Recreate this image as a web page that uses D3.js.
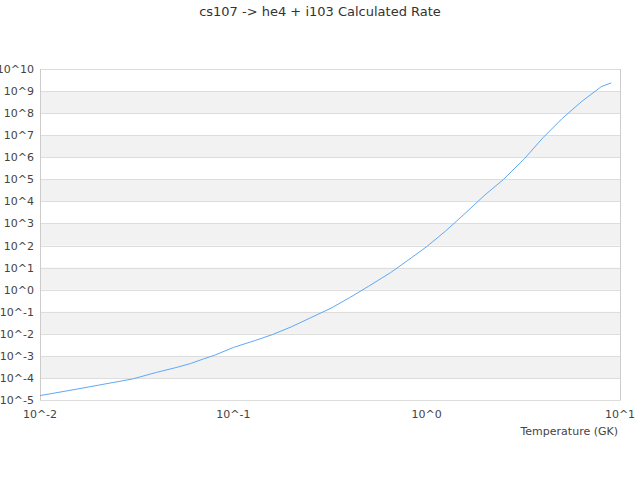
<!DOCTYPE html>
<html>
<head>
<meta charset="utf-8">
<script src="https://cdn.jsdelivr.net/npm/d3@7"></script>
<style>
  body { margin: 0; background: #fff; }
  svg { font-family: "DejaVu Sans", sans-serif; }
</style>
</head>
<body>
<svg width="640" height="480"></svg>
<script>
// temperatura (GK) y tasa calculada (log10)
const temperaturas = [0.01, 0.015, 0.02, 0.03, 0.04, 0.05, 0.06, 0.07, 0.08, 0.1,
  0.13, 0.16, 0.2, 0.25, 0.32, 0.4, 0.5, 0.65, 0.8, 1,
  1.25, 1.6, 2, 2.5, 3.2, 4, 5, 6.3, 8, 9];
const logTasa = [-4.80, -4.53, -4.33, -4.05, -3.75, -3.54, -3.35, -3.14, -2.97, -2.62,
  -2.30, -2.03, -1.68, -1.28, -0.84, -0.36, 0.15, 0.77, 1.33, 1.95,
  2.65, 3.5, 4.29, 5.0, 5.93, 6.89, 7.74, 8.51, 9.2, 9.37];
const exponentesY = d3.range(-5, 11);
const exponentesX = [-2, -1, 0, 1];
const titulo = "cs107 -> he4 + i103 Calculated Rate";
const tituloX = "Temperature (GK)";

const svg = d3.select("svg");
const margen = { izq: 40, der: 620, sup: 69, inf: 400 };

const x = d3.scaleLog().domain([0.01, 10]).range([margen.izq, margen.der]);
const y = d3.scaleLog().domain([1e-5, 1e10]).range([margen.inf, margen.sup]);

// bandas alternas grises
const bandas = exponentesY.filter(e => e < 10 && ((e + 4) % 2 === 0));
svg.selectAll(".banda")
  .data(bandas)
  .enter()
  .append("rect")
  .attr("x", margen.izq)
  .attr("width", margen.der - margen.izq)
  .attr("y", d => y(Math.pow(10, d + 1)))
  .attr("height", d => y(Math.pow(10, d)) - y(Math.pow(10, d + 1)))
  .attr("fill", "#f2f2f2");

// lineas de la rejilla
svg.selectAll(".rejilla")
  .data(exponentesY)
  .enter()
  .append("line")
  .attr("x1", margen.izq)
  .attr("x2", margen.der)
  .attr("y1", d => Math.round(y(Math.pow(10, d))) + 0.5)
  .attr("y2", d => Math.round(y(Math.pow(10, d))) + 0.5)
  .attr("stroke", "#dddddd");

// bordes izquierdo y derecho
svg.selectAll(".borde")
  .data([margen.izq, margen.der])
  .enter()
  .append("line")
  .attr("x1", d => d + 0.5)
  .attr("x2", d => d + 0.5)
  .attr("y1", margen.sup)
  .attr("y2", margen.inf + 0.5)
  .attr("stroke", "#cccccc");

// etiquetas eje y
svg.selectAll(".etiquetaY")
  .data(exponentesY)
  .enter()
  .append("text")
  .attr("x", 34)
  .attr("y", d => y(Math.pow(10, d)) + 4)
  .attr("text-anchor", "end")
  .attr("font-size", 11)
  .attr("fill", "#444")
  .text(d => "10^" + d);

// etiquetas eje x
svg.selectAll(".etiquetaX")
  .data(exponentesX)
  .enter()
  .append("text")
  .attr("x", d => x(Math.pow(10, d)))
  .attr("y", 418)
  .attr("text-anchor", "middle")
  .attr("font-size", 11)
  .attr("fill", "#444")
  .text(d => "10^" + d);

svg.append("text")
  .attr("x", 618)
  .attr("y", 435)
  .attr("text-anchor", "end")
  .attr("font-size", 11)
  .attr("fill", "#444")
  .text(tituloX);

svg.append("text")
  .attr("x", 320)
  .attr("y", 16)
  .attr("text-anchor", "middle")
  .attr("font-size", 13)
  .attr("fill", "#333")
  .text(titulo);

// curva de la tasa
const puntos = temperaturas.map((t, i) => [t, Math.pow(10, logTasa[i])]);
const linea = d3.line()
  .x(d => x(d[0]))
  .y(d => y(d[1]));

svg.append("path")
  .datum(puntos)
  .attr("d", linea)
  .attr("fill", "none")
  .attr("stroke", "#5fa8f5")
  .attr("stroke-width", 1);
</script>
</body>
</html>
